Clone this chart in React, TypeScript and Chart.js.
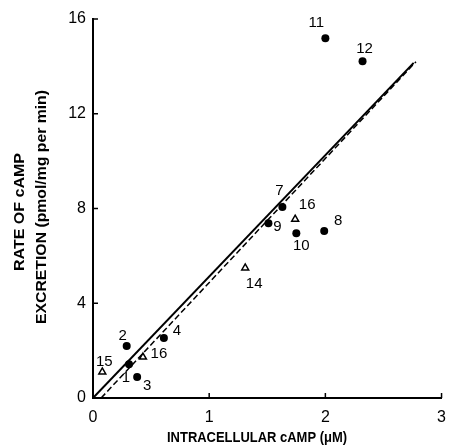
import React, { useEffect, useRef } from "react";
import { Chart, registerables } from "chart.js";

Chart.register(...registerables);

// Filled-circle samples
const circleLabels = ["1", "2", "3", "4", "7", "8", "9", "10", "11", "12"];
const circleX = [0.31, 0.29, 0.38, 0.61, 1.63, 1.99, 1.51, 1.75, 2.0, 2.32];
const circleY = [1.43, 2.19, 0.89, 2.53, 8.06, 7.05, 7.38, 6.96, 15.19, 14.22];

// Open-triangle samples
const triLabels = ["15", "16", "14", "16"];
const triX = [0.08, 0.43, 1.31, 1.74];
const triY = [1.1, 1.73, 5.49, 7.55];

// Regression lines (end points)
const solidX = [0, 2.76];
const solidY = [0, 14.15];
const dashedX = [0.07, 2.78];
const dashedY = [0, 14.2];

const xTicks = [0, 1, 2, 3];
const yTicks = [0, 4, 8, 12, 16];

const xTitle = "INTRACELLULAR cAMP (\u03BCM)";
const yTitle1 = "RATE OF cAMP";
const yTitle2 = "EXCRETION (pmol/mg per min)";

// label offsets in px (style only)
const circleLabelOffsets: [number, number][] = [
  [-3, 14], [-4, -10], [10, 9], [13, -7], [-3, -16], [14, -10], [9, 4], [5, 13], [-9, -15], [2, -12],
];
const triLabelOffsets: [number, number][] = [[2, -10], [16, -3], [9, 16], [12, -14]];

const FONT = '"Liberation Sans", Arial, sans-serif';

const toPts = (xs: number[], ys: number[]) => xs.map((x, i) => ({ x, y: ys[i] }));

export default function App() {
  const ref = useRef<HTMLCanvasElement>(null);
  useEffect(() => {
    if (!ref.current) return;
    const decor = {
      id: "decor",
      afterDraw(chart: any) {
        const ctx = chart.ctx;
        const xs = chart.scales.x;
        const ys = chart.scales.y;
        ctx.save();
        // inward tick marks
        ctx.strokeStyle = "#000";
        ctx.lineWidth = 1.5;
        yTicks.slice(1).forEach((v) => {
          const py = ys.getPixelForValue(v);
          ctx.beginPath();
          ctx.moveTo(xs.left, py);
          ctx.lineTo(xs.left + 5, py);
          ctx.stroke();
        });
        xTicks.slice(1).forEach((v) => {
          const px = xs.getPixelForValue(v);
          ctx.beginPath();
          ctx.moveTo(px, ys.bottom);
          ctx.lineTo(px, ys.bottom - 5);
          ctx.stroke();
        });
        // point labels
        ctx.fillStyle = "#000";
        ctx.font = `15px ${FONT}`;
        ctx.textAlign = "center";
        ctx.textBaseline = "middle";
        circleLabels.forEach((t, i) => {
          const px = xs.getPixelForValue(circleX[i]) + circleLabelOffsets[i][0];
          const py = ys.getPixelForValue(circleY[i]) + circleLabelOffsets[i][1];
          ctx.fillText(t, px, py);
        });
        triLabels.forEach((t, i) => {
          const px = xs.getPixelForValue(triX[i]) + triLabelOffsets[i][0];
          const py = ys.getPixelForValue(triY[i]) + triLabelOffsets[i][1];
          ctx.fillText(t, px, py);
        });
        // titles
        const fitText = (text: string, cx: number, cy: number, w: number, rot: number) => {
          ctx.save();
          ctx.font = `bold 14px ${FONT}`;
          const m = ctx.measureText(text).width;
          ctx.translate(cx, cy);
          ctx.rotate(rot);
          ctx.scale(w / m, 1);
          ctx.textAlign = "center";
          ctx.textBaseline = "middle";
          ctx.fillText(text, 0, 0);
          ctx.restore();
        };
        fitText(xTitle, 257, 438, 180, 0);
        fitText(yTitle1, 20, 212, 118, -Math.PI / 2);
        fitText(yTitle2, 42, 207, 234, -Math.PI / 2);
        ctx.restore();
      },
    };
    const chart = new Chart(ref.current, {
      type: "scatter",
      data: {
        datasets: [
          {
            data: toPts(solidX, solidY),
            showLine: true,
            borderColor: "#000",
            borderWidth: 2,
            pointRadius: 0,
          },
          {
            data: toPts(dashedX, dashedY),
            showLine: true,
            borderColor: "#000",
            borderWidth: 1.5,
            borderDash: [6, 3],
            pointRadius: 0,
          },
          {
            data: toPts(circleX, circleY),
            pointStyle: "circle",
            pointRadius: 4,
            backgroundColor: "#000",
            borderColor: "#000",
            borderWidth: 0,
          },
          {
            data: toPts(triX, triY),
            pointStyle: "triangle",
            pointRadius: 4,
            backgroundColor: "#fff",
            borderColor: "#000",
            borderWidth: 1.5,
          },
        ],
      },
      options: {
        responsive: false,
        animation: false,
        layout: { padding: { left: 0, top: 19, right: 5, bottom: 0 } },
        plugins: { legend: { display: false }, tooltip: { enabled: false } },
        scales: {
          x: {
            type: "linear",
            min: 0,
            max: 3,
            afterFit: (s: any) => {
              s.height = 50;
            },
            afterBuildTicks: (s: any) => {
              s.ticks = xTicks.map((v) => ({ value: v }));
            },
            grid: { display: false, drawTicks: false },
            border: { display: true, color: "#000", width: 2 },
            ticks: {
              color: "#000",
              font: { family: FONT, size: 16 },
              padding: 10,
              maxRotation: 0,
            },
          },
          y: {
            type: "linear",
            min: 0,
            max: 16,
            afterFit: (s: any) => {
              s.width = 93;
            },
            afterBuildTicks: (s: any) => {
              s.ticks = yTicks.map((v) => ({ value: v }));
            },
            grid: { display: false, drawTicks: false },
            border: { display: true, color: "#000", width: 2 },
            ticks: {
              color: "#000",
              font: { family: FONT, size: 16 },
              padding: 7,
            },
          },
        },
      },
      plugins: [decor],
    } as any);
    return () => chart.destroy();
  }, []);
  return (
    <div style={{ position: "absolute", left: 0, top: 0, width: 456, height: 448, background: "#fff" }}>
      <canvas ref={ref} width={456} height={448} style={{ width: 456, height: 448 }} />
    </div>
  );
}
